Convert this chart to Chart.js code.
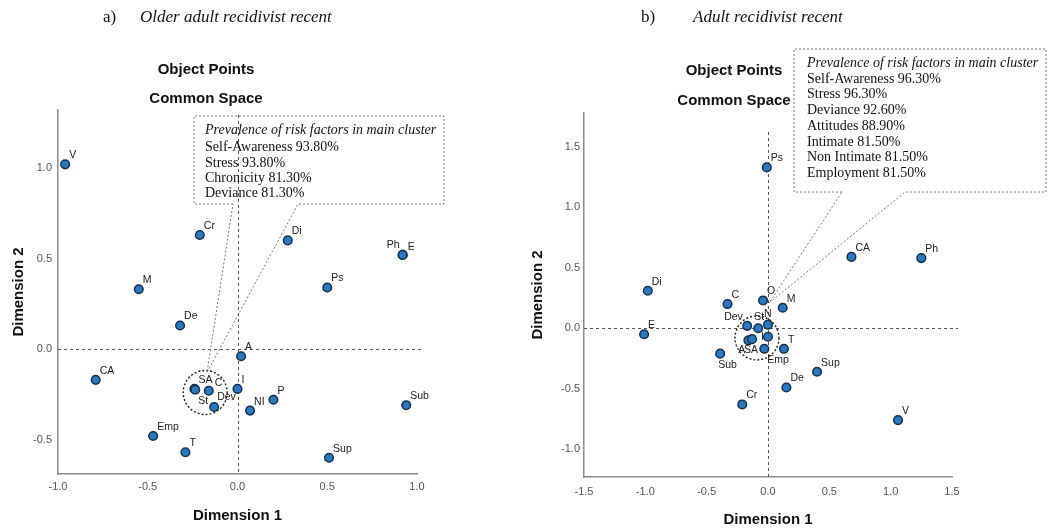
<!DOCTYPE html>
<html>
<head>
<meta charset="utf-8">
<script src="https://cdn.jsdelivr.net/npm/chart.js@4.4.1/dist/chart.umd.min.js"></script>
<style>
  body { margin: 0; background: #fff; }
  #page { position: relative; width: 1052px; height: 530px; overflow: hidden; background: #fff; }
  canvas { position: absolute; top: 0; }
  .t { position: absolute; white-space: nowrap; line-height: 1; color: #111; }
  .serif { font-family: "Liberation Serif", "Times New Roman", serif; }
  .sans { font-family: "Liberation Sans", Arial, sans-serif; font-weight: bold; font-size: 15px; }
  .ctr { width: 220px; text-align: center; }
  .box { position: absolute; font-family: "Liberation Serif", "Times New Roman", serif; font-size: 14px; color: #111; white-space: nowrap; }
  .box i { display: block; }
</style>
</head>
<body>
<div id="page">
  <canvas id="chartA" width="520" height="530" style="left:0"></canvas>
  <canvas id="chartB" width="532" height="530" style="left:520px"></canvas>

  <div class="t serif" style="left:103px;top:8px;font-size:17px">a)</div>
  <div class="t serif" style="left:140px;top:8px;font-size:17px"><i>Older adult recidivist recent</i></div>
  <div class="t sans ctr" style="left:96px;top:61px">Object Points</div>
  <div class="t sans ctr" style="left:96px;top:90px">Common Space</div>
  <div class="box" style="left:205px;top:122px;line-height:15.3px">
    <i style="margin-bottom:2px">Prevalence of risk factors in main cluster</i>
    Self-Awareness 93.80%<br>Stress 93.80%<br>Chronicity 81.30%<br>Deviance 81.30%
  </div>

  <div class="t serif" style="left:641px;top:8px;font-size:17px">b)</div>
  <div class="t serif" style="left:693px;top:8px;font-size:17px"><i>Adult recidivist recent</i></div>
  <div class="t sans ctr" style="left:624px;top:62px">Object Points</div>
  <div class="t sans ctr" style="left:624px;top:92px">Common Space</div>
  <div class="box" style="left:807px;top:55px;line-height:15.7px">
    <i>Prevalence of risk factors in main cluster</i>
    Self-Awareness 96.30%<br>Stress 96.30%<br>Deviance 92.60%<br>Attitudes 88.90%<br>Intimate 81.50%<br>Non Intimate 81.50%<br>Employment 81.50%
  </div>
</div>

<script>
// a) Older adult recidivist recent
var labelsA = ['V', 'Cr', 'M', 'De', 'Di', 'Ph', 'E', 'Ps', 'A', 'CA', 'SA', 'St', 'C', 'Dev', 'I', 'NI', 'P', 'Sub', 'Sup', 'Emp', 'T'];
var dim1A = [-0.96, -0.21, -0.55, -0.32, 0.28, 0.92, 0.92, 0.50, 0.02, -0.79, -0.24, -0.235, -0.16, -0.13, 0.00, 0.07, 0.20, 0.94, 0.51, -0.47, -0.29];
var dim2A = [1.02, 0.63, 0.33, 0.13, 0.60, 0.52, 0.52, 0.34, -0.04, -0.17, -0.22, -0.225, -0.23, -0.32, -0.22, -0.34, -0.28, -0.31, -0.60, -0.48, -0.57];
var xTicksA = [-1.0, -0.5, 0.0, 0.5, 1.0];
var yTicksA = [-0.5, 0.0, 0.5, 1.0];

// b) Adult recidivist recent
var labelsB = ['Ps', 'Di', 'E', 'C', 'O', 'M', 'CA', 'Ph', 'Dev', 'St', 'N', 'I', 'A', 'SA', 'Emp', 'T', 'Sub', 'Sup', 'De', 'Cr', 'V'];
var dim1B = [-0.01, -0.98, -1.01, -0.33, -0.04, 0.12, 0.68, 1.25, -0.17, -0.08, 0.00, 0.00, -0.16, -0.13, -0.03, 0.13, -0.39, 0.40, 0.15, -0.21, 1.06];
var dim2B = [1.33, 0.31, -0.05, 0.20, 0.23, 0.17, 0.59, 0.58, 0.02, 0.00, 0.03, -0.07, -0.10, -0.09, -0.17, -0.17, -0.21, -0.36, -0.49, -0.63, -0.76];
var xTicksB = [-1.5, -1.0, -0.5, 0.0, 0.5, 1.0, 1.5];
var yTicksB = [-1.0, -0.5, 0.0, 0.5, 1.0, 1.5];

var SANS = '"Liberation Sans", Arial, sans-serif';

// dashed zero lines, cluster circle, point labels and the callout outline
function makeDecor(labels, o) {
  return {
    id: 'mdsDecor',
    beforeDatasetsDraw: function (chart) {
      var ctx = chart.ctx, a = chart.chartArea;
      var x0 = Math.round(chart.scales.x.getPixelForValue(0)) + 0.5;
      var y0 = Math.round(chart.scales.y.getPixelForValue(0)) + 0.5;
      ctx.save();
      ctx.strokeStyle = '#555';
      ctx.lineWidth = 1;
      ctx.setLineDash([3, 3]);
      ctx.beginPath();
      ctx.moveTo(x0, o.zeroTop);
      ctx.lineTo(x0, a.bottom);
      ctx.moveTo(a.left, y0);
      ctx.lineTo(a.right + 6, y0);
      ctx.stroke();
      ctx.restore();
    },
    afterDatasetsDraw: function (chart) {
      var ctx = chart.ctx;
      var sx = chart.scales.x, sy = chart.scales.y;
      ctx.save();

      // circle round the main cluster
      ctx.strokeStyle = '#222';
      ctx.lineWidth = 1.4;
      ctx.setLineDash([2, 2]);
      ctx.beginPath();
      ctx.arc(sx.getPixelForValue(o.circle[0]), sy.getPixelForValue(o.circle[1]), o.circle[2], 0, Math.PI * 2);
      ctx.stroke();

      // labels
      ctx.setLineDash([]);
      ctx.fillStyle = '#222';
      ctx.font = '10.5px ' + SANS;
      ctx.textAlign = 'left';
      ctx.textBaseline = 'middle';
      var pts = chart.getDatasetMeta(0).data;
      pts.forEach(function (p, i) {
        var off = o.offsets[labels[i]] || [4, -9];
        ctx.fillText(labels[i], p.x + off[0], p.y + off[1]);
      });

      // callout box
      var b = o.box;
      var tx = sx.getPixelForValue(o.tip[0]), ty = sy.getPixelForValue(o.tip[1]);
      ctx.strokeStyle = '#777';
      ctx.lineWidth = 1;
      ctx.setLineDash([2, 2]);
      ctx.beginPath();
      ctx.moveTo(b.g1, b.b);
      ctx.lineTo(b.l, b.b);
      ctx.lineTo(b.l, b.t);
      ctx.lineTo(b.r, b.t);
      ctx.lineTo(b.r, b.b);
      ctx.lineTo(b.g2, b.b);
      ctx.lineTo(tx, ty);
      ctx.lineTo(b.g1, b.b);
      ctx.stroke();
      ctx.restore();
    }
  };
}

function makeChart(id, labels, xs, ys, xTicks, yTicks, o) {
  var pts = xs.map(function (x, i) { return { x: x, y: ys[i] }; });
  return new Chart(document.getElementById(id), {
    type: 'scatter',
    data: {
      datasets: [{
        data: pts,
        backgroundColor: '#2b78c2',
        borderColor: '#13304f',
        borderWidth: 1.5,
        pointRadius: 4.3,
        pointHoverRadius: 4.3
      }]
    },
    options: {
      responsive: false,
      animation: false,
      events: [],
      layout: { padding: o.pad },
      plugins: { legend: { display: false }, tooltip: { enabled: false } },
      scales: {
        x: {
          type: 'linear',
          min: o.xMin, max: o.xMax,
          grid: { display: false, drawTicks: false },
          border: { color: '#8c8c8c', width: 1.5 },
          afterBuildTicks: function (s) { s.ticks = xTicks.map(function (v) { return { value: v }; }); },
          afterFit: function (s) { s.height = o.xH; },
          ticks: {
            padding: o.xTickPad, color: '#555', maxRotation: 0, autoSkip: false,
            font: { family: SANS, size: 11 },
            callback: function (v) { return Number(v).toFixed(1); }
          },
          title: {
            display: true, text: 'Dimension 1', color: '#111',
            font: { family: SANS, size: 15, weight: 'bold' },
            padding: { top: 0, bottom: o.xTitlePad }
          }
        },
        y: {
          type: 'linear',
          min: o.yMin, max: o.yMax,
          grid: { display: false, drawTicks: false },
          border: { color: '#8c8c8c', width: 1.5 },
          afterBuildTicks: function (s) { s.ticks = yTicks.map(function (v) { return { value: v }; }); },
          afterFit: function (s) { s.width = o.yW; },
          ticks: {
            padding: o.yTickPad, color: '#555', autoSkip: false,
            font: { family: SANS, size: 11 },
            callback: function (v) { return Number(v).toFixed(1); }
          },
          title: {
            display: true, text: 'Dimension 2', color: '#111',
            font: { family: SANS, size: 15, weight: 'bold' },
            padding: { top: o.yTitlePad, bottom: 0 }
          }
        }
      }
    },
    plugins: [makeDecor(labels, o)]
  });
}

makeChart('chartA', labelsA, dim1A, dim2A, xTicksA, yTicksA, {
  xMin: -1.0, xMax: 1.0, yMin: -0.69, yMax: 1.32,
  pad: { left: 0, top: 110, right: 103, bottom: 0 },
  yW: 58, xH: 56, xTickPad: 6, yTickPad: 6, xTitlePad: 5, yTitlePad: 10,
  zeroTop: 115,
  circle: [-0.18, -0.24, 22],
  tip: [-0.17, -0.13],
  box: { l: 194, t: 116, r: 444, b: 204, g1: 233, g2: 298 },
  offsets: { St: [3, 11], Ph: [-16, -10], E: [5, -8], Dev: [3, -10], C: [6, -8] }
});

makeChart('chartB', labelsB, dim1B, dim2B, xTicksB, yTicksB, {
  xMin: -1.5, xMax: 1.5, yMin: -1.23, yMax: 1.78,
  pad: { left: 0, top: 113, right: 100, bottom: 0 },
  yW: 64, xH: 53, xTickPad: 8, yTickPad: 4, xTitlePad: 1, yTitlePad: 9,
  zeroTop: 132,
  circle: [-0.09, -0.08, 22],
  tip: [0.01, 0.21],
  box: { l: 274, t: 49, r: 526, b: 192, g1: 322, g2: 385 },
  offsets: {
    Dev: [-23, -9], St: [-4, -11], N: [-4, -11], I: [-7, 0],
    A: [-10, 10], SA: [-8, 11], Emp: [3, 11], Sub: [-2, 11]
  }
});
</script>
</body>
</html>
